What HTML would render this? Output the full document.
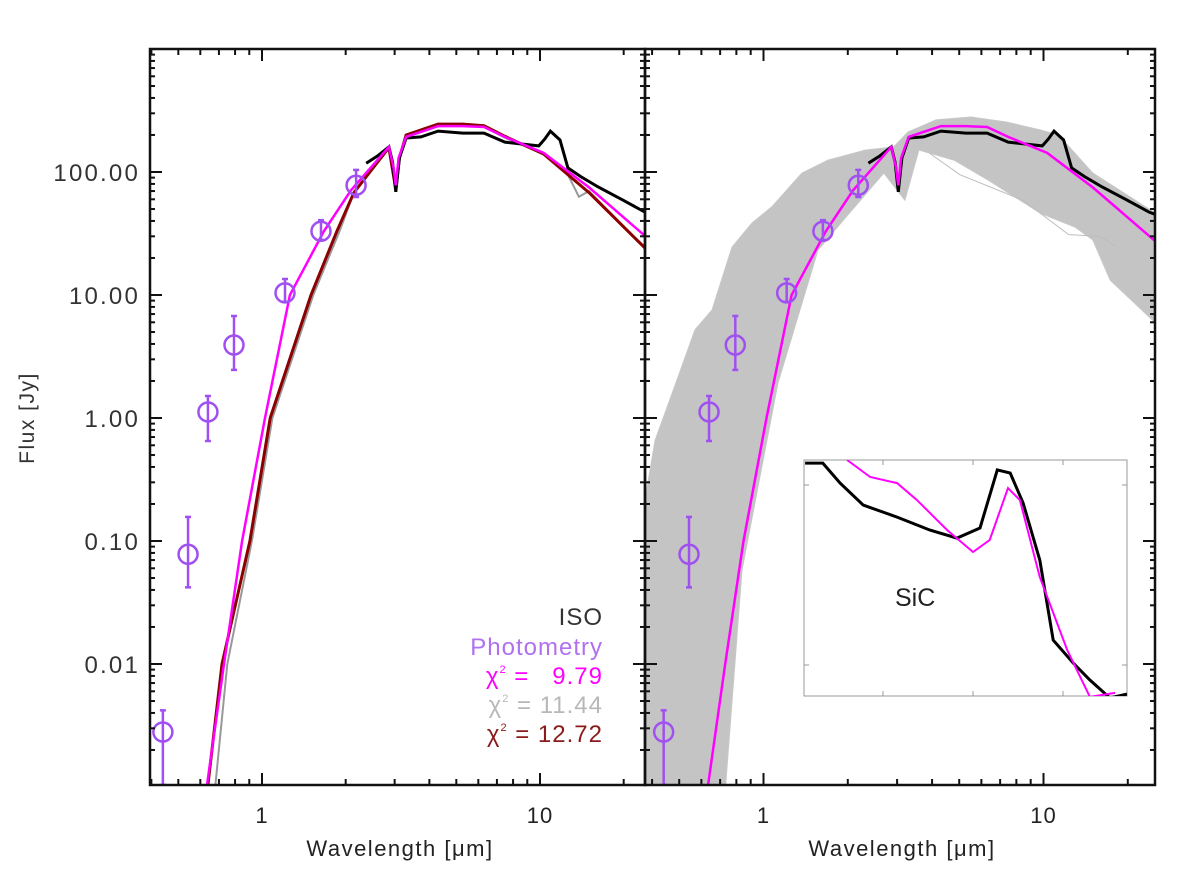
<!DOCTYPE html>
<html><head><meta charset="utf-8"><style>
html,body{margin:0;padding:0;background:#fff;}
svg{display:block;font-family:"Liberation Sans",sans-serif;}
</style></head><body>
<svg id="chart" width="1200" height="886" viewBox="0 0 1200 886" xmlns="http://www.w3.org/2000/svg">
<defs>
<clipPath id="clipL"><rect x="150" y="49" width="495" height="736"/></clipPath>
<clipPath id="clipR"><rect x="645" y="49" width="510" height="736"/></clipPath>
<clipPath id="clipI"><rect x="804" y="460" width="323" height="236"/></clipPath>
</defs>
<rect width="1200" height="886" fill="#fff"/>
<g id="panelL"></g>
<g id="panelR"></g>
<g id="axes"></g>
<text x="0" y="0" transform="translate(34,418) rotate(-90)" text-anchor="middle" font-size="21" letter-spacing="1.5" fill="#333">Flux [Jy]</text>
<text x="400" y="856" text-anchor="middle" font-size="22" letter-spacing="1.5" fill="#222">Wavelength [μm]</text>
<text x="902" y="856" text-anchor="middle" font-size="22" letter-spacing="1.5" fill="#222">Wavelength [μm]</text>
<g font-size="24" text-anchor="end" letter-spacing="1">
<text x="603" y="625" fill="#333">ISO</text>
<text x="603" y="655" fill="#b070f0">Photometry</text>
<text x="603" y="684" fill="#ff00ff" xml:space="preserve">χ<tspan font-size="11" dy="-11">2</tspan><tspan dy="11"> =   9.79</tspan></text>
<text x="603" y="713" fill="#b8b8b8" xml:space="preserve">χ<tspan font-size="11" dy="-11">2</tspan><tspan dy="11"> = 11.44</tspan></text>
<text x="603" y="742" fill="#8b1a1a" xml:space="preserve">χ<tspan font-size="11" dy="-11">2</tspan><tspan dy="11"> = 12.72</tspan></text>
</g>
<g id="inset"></g>
</svg>
<script>
// ---- data ----
const photLam = [0.44, 0.542, 0.639, 0.793, 1.21, 1.63, 2.18];
const photFlux = [0.0028, 0.078, 1.12, 3.92, 10.4, 33, 78];
const photHi = [0.0042, 0.157, 1.51, 6.75, 13.5, 40.6, 104];
const photLo = [0.0005, 0.042, 0.65, 2.46, 8.8, 28, 62.6];

const isoLam = [2.37, 2.6, 2.86, 2.95, 3.03, 3.12, 3.30, 3.73, 4.30, 5.28, 6.29, 7.48, 9.9, 10.4, 10.9, 11.8, 12.6, 14.0, 16.2, 19.9, 23.9, 26];
const isoFlux = [118, 135, 160, 120, 69, 130, 189, 193, 215, 207, 207, 175, 163, 185, 215, 182, 108, 92, 75.5, 59, 47, 44];

const magLam = [0.634, 0.73, 0.848, 1.025, 1.26, 1.67, 2.09, 2.86, 2.97, 3.03, 3.1, 3.30, 4.30, 5.28, 6.29, 7.48, 10.3, 15.0, 24.8, 27];
const magFlux = [0.00104, 0.01, 0.1, 1.0, 10, 33, 71, 160, 110, 78, 130, 193, 236, 236, 232, 193, 143, 75, 28, 24];

const redLam = [0.639, 0.718, 0.905, 1.07, 1.50, 1.86, 2.14, 2.86, 3.03, 3.12, 3.30, 4.30, 5.28, 6.29, 7.48, 10.3, 15.0, 23.9, 26];
const redFlux = [0.00104, 0.01, 0.1, 1.0, 10, 33, 68, 158, 72, 130, 200, 245, 245, 238, 195, 140, 68, 24, 21];

const grayLam = [0.68, 0.75, 0.92, 1.09, 1.53, 1.9, 2.14, 2.86, 3.03, 3.12, 3.30, 4.30, 5.28, 6.29, 7.48, 10.3, 12.6, 13.8, 15.0, 23.9, 26];
const grayFlux = [0.00104, 0.01, 0.1, 1.0, 10, 33, 68, 158, 72, 130, 198, 240, 240, 232, 190, 140, 95, 63, 70, 24, 21];

const bandUpLam = [0.37, 0.377, 0.41, 0.495, 0.569, 0.655, 0.772, 0.91, 1.07, 1.37, 1.70, 2.32, 2.92, 3.28, 4.13, 5.51, 7.35, 9.8, 11.3, 15.0, 26];
const bandUpFlux = [0.2, 0.215, 0.66, 2.15, 5.2, 7.55, 24.5, 38.5, 52, 98, 125, 151, 160, 211, 265, 280, 255, 219, 200, 98, 44];
const bandLoLam = [0.37, 0.729, 0.838, 1.127, 1.566, 2.02, 2.69, 3.2, 3.59, 4.79, 6.34, 9.8, 12.95, 15.0, 17.3, 26];
const bandLoFlux = [0.0009, 0.0009, 0.058, 1.93, 23.2, 46, 98, 59, 151, 125, 86, 46, 35.7, 28, 13.2, 5.5];
const outLam = [3.9, 5.03, 8.45, 12.3, 15.9, 18];
const outFlux = [143, 95, 59, 31, 30, 25];

const insetIsoLam = [8.02, 8.35, 8.67, 9.10, 9.73, 10.34, 10.84, 11.27, 11.59, 11.83, 12.07, 12.38, 12.63, 13.00, 13.31, 13.68, 14.0];
const insetIsoFlux = [218.7, 218.7, 210.2, 200.9, 195.8, 190.3, 186.9, 191.2, 215.8, 214.5, 201.8, 177.6, 143.7, 134, 126.8, 119.2, 120.8];
const insetMagLam = [8.80, 9.23, 9.73, 10.10, 10.66, 11.14, 11.45, 11.79, 12.01, 12.38, 12.89, 13.31, 13.78];
const insetMagFlux = [220, 212.8, 210.2, 203, 190.3, 181, 186.1, 208.1, 203, 170.4, 139.5, 119.6, 121.3];

const yTickVals = [0.01, 0.1, 1, 10, 100];
const yTickLabels = ["0.01", "0.10", "1.00", "10.00", "100.00"];
const xTickVals = [1, 10];
const xTickLabels = ["1", "10"];

// ---- scales ----
const lg = Math.log10;
const xL = l => 262 + 278 * lg(l);
const xR = l => 763.5 + 280 * lg(l);
const yS = f => 172 - 123 * (lg(f) - 2);
const xI = l => 804 + (l - 8) / 6 * 323;
const yI = f => 696 - (f - 120) / 100 * 236;
const NS = "http://www.w3.org/2000/svg";
function mk(tag, attrs, parent) {
  const e = document.createElementNS(NS, tag);
  for (const k in attrs) e.setAttribute(k, attrs[k]);
  parent.appendChild(e);
  return e;
}
function pts(ls, fs, xf, yf) { return ls.map((l, i) => xf(l).toFixed(1) + "," + yf(fs[i]).toFixed(1)).join(" "); }

function drawPanel(g, xf, clip, left) {
  const c = mk("g", {"clip-path": "url(#" + clip + ")"}, g);
  if (!left) {
    const band = mk("polygon", {points: pts(bandUpLam, bandUpFlux, xf, yS) + " " + pts(bandLoLam.slice().reverse(), bandLoFlux.slice().reverse(), xf, yS), fill: "#c4c4c4", stroke: "#c8c8c8", "stroke-width": 1}, c);
    
    
    const o = mk("polyline", {points: pts(outLam, outFlux, xf, yS), fill: "none", stroke: "#bdbdbd", "stroke-width": 1}, c);
    
    
  } else {
    const gr = mk("polyline", {points: pts(grayLam, grayFlux, xf, yS), fill: "none", stroke: "#999", "stroke-width": 2}, c);
    
    
    const rd = mk("polyline", {points: pts(redLam, redFlux, xf, yS), fill: "none", stroke: "#8b0000", "stroke-width": 3}, c);
    
    
  }
  const iso = mk("polyline", {points: pts(isoLam, isoFlux, xf, yS), fill: "none", stroke: "#000", "stroke-width": 3}, c);
  
  
  const mg = mk("polyline", {points: pts(magLam, magFlux, xf, yS), fill: "none", stroke: "#ff00ff", "stroke-width": 2.5}, c);
  
  
  photLam.forEach((l, i) => {
    const x = xf(l), y = yS(photFlux[i]), yh = yS(photHi[i]), yl = Math.min(yS(photLo[i]), 785);
    const p = mk("g", {stroke: "#a050f0", "stroke-width": 2.5, fill: "none"}, c);
    
    
    mk("line", {x1: x, x2: x, y1: yh, y2: yl}, p);
    mk("line", {x1: x - 3, x2: x + 3, y1: yh, y2: yh}, p);
    mk("line", {x1: x - 3, x2: x + 3, y1: yl, y2: yl}, p);
    mk("circle", {cx: x, cy: y, r: 9.5}, p);
  });
}
drawPanel(document.getElementById("panelL"), xL, "clipL", true);
drawPanel(document.getElementById("panelR"), xR, "clipR", false);

// axes
const ax = document.getElementById("axes");
function frame(x0, x1, xf, labels, nm) {
  const r = mk("rect", {x: x0, y: 49, width: x1 - x0, height: 736, fill: "none", stroke: "#111", "stroke-width": 2.5}, ax);
  
  
  for (let d = 0.1; d <= 10; d *= 10) for (let m = 1; m <= 9; m++) {
    const v = d * m, x = xf(v);
    if (x < x0 + 1 || x > x1 - 1) continue;
    const len = m === 1 ? 12 : 6;
    mk("line", {x1: x, x2: x, y1: 785, y2: 785 - len, stroke: "#111", "stroke-width": 2}, ax);
    mk("line", {x1: x, x2: x, y1: 49, y2: 49 + len, stroke: "#111", "stroke-width": 2}, ax);
  }
  for (let d = 0.001; d <= 100; d *= 10) for (let m = 1; m <= 9; m++) {
    const y = yS(d * m);
    if (y < 50 || y > 784) continue;
    const len = m === 1 ? 12 : 5;
    mk("line", {x1: x0, x2: x0 + len, y1: y, y2: y, stroke: "#111", "stroke-width": 2}, ax);
    mk("line", {x1: x1, x2: x1 - len, y1: y, y2: y, stroke: "#111", "stroke-width": 2}, ax);
  }
  xTickVals.forEach((v, i) => {
    const t = mk("text", {x: xf(v), y: 823, "text-anchor": "middle", "font-size": 22, fill: "#222", "letter-spacing": 1}, ax);
    t.textContent = xTickLabels[i];
    
    
  });
}
frame(150, 645, xL, true, "left-panel");
frame(645, 1155, xR, false, "right-panel");
yTickVals.forEach((v, i) => {
  const t = mk("text", {x: 140, y: yS(v) + 9, "text-anchor": "end", "font-size": 24, fill: "#333", "letter-spacing": 2.2}, ax);
  t.textContent = yTickLabels[i];
  
  
});

// inset
const ins = document.getElementById("inset");
mk("rect", {x: 804, y: 460, width: 323, height: 236, fill: "#fff", stroke: "#999", "stroke-width": 1}, ins);
[883, 973, 1063].forEach(x => { mk("line", {x1: x, x2: x, y1: 460, y2: 465, stroke: "#999"}, ins); mk("line", {x1: x, x2: x, y1: 696, y2: 691, stroke: "#999"}, ins); });
[485, 665].forEach(y => { mk("line", {x1: 1127, x2: 1122, y1: y, y2: y, stroke: "#999"}, ins); mk("line", {x1: 804, x2: 809, y1: y, y2: y, stroke: "#999"}, ins); });
const ic = mk("g", {"clip-path": "url(#clipI)"}, ins);
const il = mk("polyline", {points: pts(insetIsoLam, insetIsoFlux, xI, yI), fill: "none", stroke: "#000", "stroke-width": 3}, ic);


const im = mk("polyline", {points: pts(insetMagLam, insetMagFlux, xI, yI), fill: "none", stroke: "#ff00ff", "stroke-width": 2}, ic);


const st = mk("text", {x: 895, y: 606, "font-size": 25, fill: "#222"}, ins);
st.textContent = "SiC";


</script>
</body></html>
